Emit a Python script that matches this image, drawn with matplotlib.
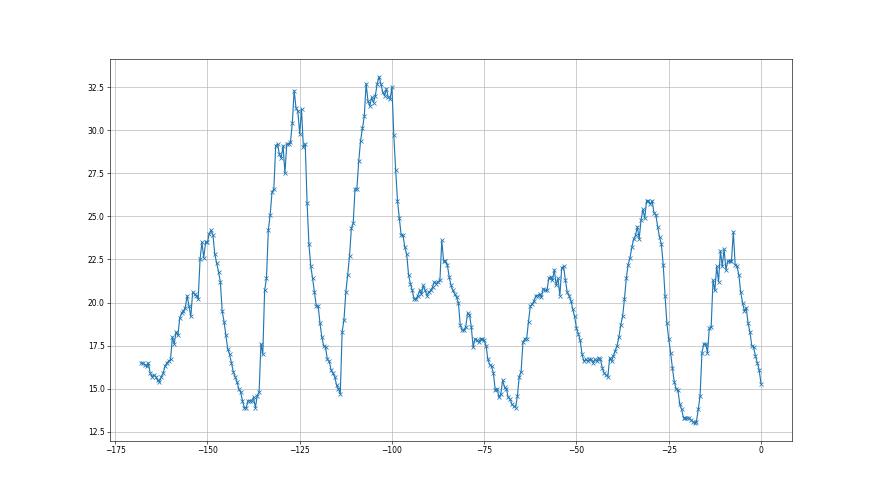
import numpy as np
import matplotlib
matplotlib.use('Agg')
import matplotlib.pyplot as plt

# hours before now, sampled every half hour
hours = np.arange(-168, 0.5, 0.5)

# readings, split into chunks along the time axis
seg1 = [16.5, 16.5, 16.4, 16.3, 16.5, 15.9, 15.7, 15.8, 15.7, 15.5, 15.4, 15.7, 15.9, 16.3, 16.5, 16.6, 16.7,
        18.0, 17.6, 18.3, 18.1, 19.1, 19.4, 19.5, 19.7, 20.4, 19.8, 19.2, 20.6, 20.5, 20.4, 20.2]
seg2 = [22.5, 23.5, 22.6, 23.5, 23.5, 24.0, 24.2, 23.9, 22.8, 22.3, 21.8, 21.2, 19.5, 18.9, 18.1, 17.3, 17.0,
        16.5, 16.0, 15.7, 15.4, 15.0, 14.8, 14.3, 13.9, 13.9, 14.3, 14.3, 14.3, 14.5, 13.9, 14.6, 14.8]
seg3 = [17.6, 17.0, 20.7, 21.4, 24.2, 25.1, 26.4, 26.6, 29.1, 29.2, 28.6, 28.4, 29.1, 27.5, 29.2, 29.2, 29.3,
        30.4, 32.3, 31.3, 31.1, 29.8, 31.2, 29.0, 29.2]
seg4 = [25.8, 23.4, 22.1, 21.4, 20.6, 19.8, 19.8, 18.8, 18.0, 17.5, 17.4, 16.7, 16.6, 16.1, 15.9, 15.7, 15.2,
        15.0, 14.7]
seg5 = [18.3, 19.0, 20.6, 21.6, 22.7, 24.3, 24.6, 26.6, 26.6, 28.2, 29.4, 30.1, 30.8, 32.7, 31.7, 31.4, 31.9,
        31.6, 32.0, 32.7, 33.1, 32.7, 32.2]
seg6 = [32.0, 32.4, 31.9, 31.8, 32.5, 29.7, 27.7, 25.9, 24.9, 23.9, 23.9, 23.2, 22.8, 21.6, 21.1, 20.7, 20.2,
        20.2, 20.4, 20.7, 20.5, 21.0, 20.7, 20.4, 20.6, 20.7, 20.9, 21.2, 21.1, 21.2, 21.3]
seg7 = [23.6, 22.4, 22.4, 22.2, 21.5, 21.0, 20.7, 20.5, 20.3, 20.0, 18.7, 18.4, 18.4, 18.6, 19.4, 19.3, 18.6,
        17.4, 17.9, 17.8, 17.7, 17.9, 17.9, 17.8, 17.5, 16.7, 16.4, 16.3, 15.9, 14.9, 15.0, 14.5, 14.7, 15.5,
        15.1, 15.0]
seg8 = [14.5, 14.4, 14.1, 14.0, 13.9, 14.6, 15.7, 16.0, 17.7, 17.9, 17.9, 18.9, 19.8, 19.9, 20.1, 20.4, 20.4,
        20.5, 20.3, 20.8, 20.7, 20.7, 21.4, 21.5, 21.3, 21.9, 21.0, 21.4, 20.4, 22.0, 22.1, 21.3]
seg9 = [20.6, 20.4, 20.1, 19.6, 19.2, 18.5, 18.2, 17.8, 17.0, 16.6, 16.7, 16.6, 16.7, 16.7, 16.5, 16.7, 16.6,
        16.8, 16.7, 16.2, 15.9, 15.8, 15.7, 16.8, 16.6, 16.9, 17.2, 17.5, 18.0, 18.7, 19.2, 20.2, 21.4, 22.2,
        22.6]
seg10 = [23.2, 23.7, 23.9, 24.4, 23.7, 24.8, 25.4, 24.9, 25.9, 25.9, 25.7, 25.9, 25.2, 25.1, 24.4, 23.8, 23.4,
         22.2, 20.4, 18.8, 17.9, 17.1, 16.2, 15.4, 15.0, 14.9, 14.1, 13.8, 13.3, 13.3, 13.3, 13.3, 13.2, 13.1,
         13.0, 13.1, 13.8, 14.6]
seg11 = [17.1, 17.6, 17.6, 17.1, 18.5, 18.6, 21.3, 20.7, 22.1, 21.2, 23.0, 22.1, 23.1, 21.9, 22.4, 22.4, 22.4,
         24.1, 22.2, 22.1, 21.6, 20.6, 20.0, 19.5, 19.7, 18.8, 18.3, 17.5, 17.4, 16.9, 16.5, 16.1, 15.3]

values = seg1 + seg2 + seg3 + seg4 + seg5 + seg6 + seg7 + seg8 + seg9 + seg10 + seg11

plt.figure(figsize=(16, 9), dpi=55)
plt.plot(hours, values, marker='x')
plt.grid(True)
plt.savefig('out.png', dpi=55)
